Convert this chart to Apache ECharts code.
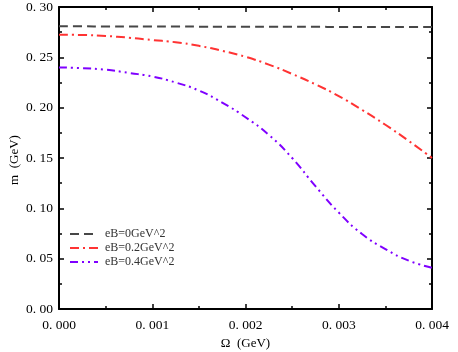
<!DOCTYPE html>
<html>
<head>
<meta charset="utf-8">
<script src="https://cdn.jsdelivr.net/npm/echarts@6/dist/echarts.min.js"></script>
<style>
  html, body { margin: 0; padding: 0; background: #fff; }
  #chart { width: 458px; height: 352px; }
</style>
</head>
<body>
<div id="chart"></div>
<script>
// Omega (GeV)
const omega = [0, 0.00025, 0.0005, 0.00075, 0.001, 0.00125, 0.0015, 0.00175, 0.002,
  0.00225, 0.0025, 0.00275, 0.003, 0.00325, 0.0035, 0.00375, 0.004]

// m (GeV) for each eB
const m0 = [0.2808, 0.2808, 0.2807, 0.2807, 0.2806, 0.2806, 0.2805, 0.2805, 0.2804,
  0.2804, 0.2803, 0.2803, 0.2802, 0.2802, 0.2802, 0.2801, 0.2801]
const m02 = [0.2725, 0.2722, 0.2712, 0.2695, 0.2672, 0.2650, 0.2614, 0.2565, 0.2505,
  0.2428, 0.2335, 0.2232, 0.2115, 0.1978, 0.1830, 0.1670, 0.1500]
const m04 = [0.2400, 0.2392, 0.2377, 0.2345, 0.2310, 0.2250, 0.2170, 0.2050, 0.1905,
  0.1730, 0.1500, 0.1220, 0.0958, 0.0745, 0.0595, 0.0480, 0.0410]

const names = ['eB=0GeV^2', 'eB=0.2GeV^2', 'eB=0.4GeV^2']
const colors = ['#474747', '#ff3333', '#7f00ff']
const dashes = [[9, 5], [9, 4, 2, 4], [8, 4, 2, 4, 2, 4]]

const font = 'Liberation Serif'
const fmt = (v, d) => v.toFixed(d).replace('.', '. ')

const chart = echarts.init(document.getElementById('chart'))

const axisLine = { show: true, onZero: false, lineStyle: { color: '#000', width: 2 } }
const tick = { show: true, inside: true, length: 5, lineStyle: { color: '#000', width: 1.5 } }
const minor = { show: true, splitNumber: 2, length: 3, lineStyle: { color: '#000', width: 1.5 } }

const toPairs = arr => arr.map((v, i) => [omega[i], v])

chart.setOption({
  animation: false,
  backgroundColor: '#fff',
  textStyle: { fontFamily: font },
  grid: { left: 59, right: 26, top: 7, bottom: 43, containLabel: false, outerBoundsMode: 'none' },
  // y axis title, placed by hand so it sits where the reference has it
  graphic: [{
    type: 'text',
    x: 15, y: 160,
    rotation: Math.PI / 2,
    style: {
      text: 'm  (GeV)', fill: '#000',
      font: '13px "Liberation Serif"',
      align: 'center', verticalAlign: 'middle'
    }
  }],
  legend: {
    left: 64, top: 223,
    orient: 'vertical',
    itemWidth: 28, itemHeight: 10, itemGap: 2,
    itemStyle: { opacity: 0 },
    textStyle: { fontFamily: font, fontSize: 12, color: '#333', padding: [0, 0, 0, 2] },
    data: names
  },
  xAxis: [{
    type: 'value', min: 0, max: 0.004, interval: 0.001,
    name: 'Ω  (GeV)', nameLocation: 'middle', nameGap: 28,
    nameTextStyle: { fontFamily: font, fontSize: 13, color: '#000' },
    axisLine, axisTick: tick, minorTick: minor,
    axisLabel: { color: '#000', fontSize: 13.5, margin: 9, formatter: v => fmt(v, 3) },
    splitLine: { show: false }
  }, {
    type: 'value', min: 0, max: 0.004, interval: 0.001, position: 'top',
    axisLine, axisTick: tick, minorTick: minor,
    axisLabel: { show: false }, splitLine: { show: false }
  }],
  yAxis: [{
    type: 'value', min: 0, max: 0.3, interval: 0.05,
    axisLine, axisTick: tick, minorTick: minor,
    axisLabel: { color: '#000', fontSize: 13.5, margin: 6, formatter: v => fmt(v, 2) },
    splitLine: { show: false }
  }, {
    type: 'value', min: 0, max: 0.3, interval: 0.05, position: 'right',
    axisLine, axisTick: tick, minorTick: minor,
    axisLabel: { show: false }, splitLine: { show: false }
  }],
  series: [m0, m02, m04].map((arr, i) => ({
    name: names[i],
    type: 'line',
    smooth: true,
    symbol: 'none',
    data: toPairs(arr),
    itemStyle: { color: colors[i] },
    lineStyle: { color: colors[i], width: 2, type: dashes[i] }
  }))
})
</script>
</body>
</html>
